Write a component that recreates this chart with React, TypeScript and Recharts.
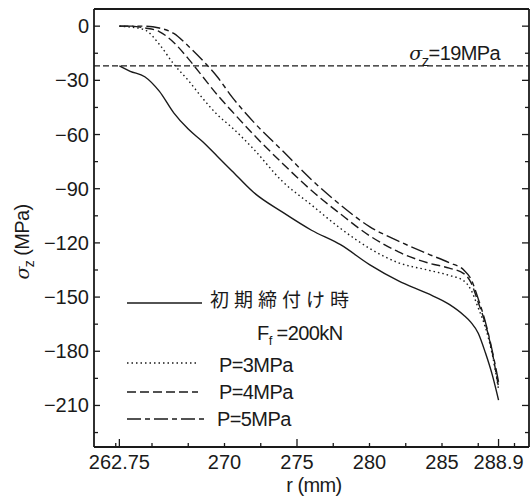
import { LineChart, Line, XAxis, YAxis, ReferenceLine, Legend } from 'recharts';

// radius (mm) and axial stress (MPa)
const radius = [262.75, 263.5, 264.5, 265.5, 266.5, 267.5, 268.5, 269.5, 270.5, 272, 274, 276, 278, 280, 282, 284, 285.5, 286.5, 287, 287.5, 288, 288.5, 288.9];
const initial = [-22, -25, -28, -36, -48, -57, -64, -72, -80, -92, -103, -113, -121, -132, -141, -148, -154, -160, -164, -170, -181, -194, -207];
const p3 = [0, -0.5, -2, -10, -21, -30, -40, -49, -56, -68, -86, -99, -112, -123, -131, -135, -138, -141, -146, -156, -167, -183, -201];
const p4 = [0, 0, -1, -3, -9, -18, -28, -38, -47, -60, -76, -91, -104, -116, -125, -131, -134, -137, -142, -153, -165, -182, -200];
const p5 = [0, 0, 0, -1, -4, -11, -19, -28, -39, -53, -69, -85, -99, -111, -119, -126, -131, -135, -140, -151, -164, -181, -197];

const seriesNames = ['初期締付け時', 'P=3MPa', 'P=4MPa', 'P=5MPa'];
const seriesKeys = ['initial', 'p3', 'p4', 'p5'];
const dashes = [undefined, '1.5 3', '9 4', '14 4 5 4'];

const xLabelTicks = [262.75, 270, 275, 280, 285, 288.9];
const xLongTicks = [262.75, 275, 288.9];
const xMinorTicks = [262.5, 265, 267.5, 270, 272.5, 275, 277.5, 280, 282.5, 285, 287.5, 290];
const yLabelTicks = [0, -30, -60, -90, -120, -150, -180, -210];
const yMinorTicks = [-15, -45, -75, -105, -135, -165, -195, -225];
const limitStress = -22;

const data = radius.map((r, i) => ({ r, initial: initial[i], p3: p3[i], p4: p4[i], p5: p5[i] }));

const ink = '#1a1a1a';
const font = '"Liberation Sans", Arial, sans-serif';
const xDomain = [261, 291];
const yDomain = [-233, 9.5];

const bottomTicks = Array.from(new Set([...xMinorTicks, ...xLabelTicks])).sort((a, b) => a - b);
const leftTicks = [...yLabelTicks, ...yMinorTicks].sort((a, b) => a - b);
const rightTicks = [...leftTicks];

const fmtY = (v: number) => (v < 0 ? '\u2212' + Math.abs(v) : String(v));

const BottomTick = (props: any) => {
  const { x, y, payload } = props;
  const v = payload.value;
  const len = xLongTicks.includes(v) ? 8 : 4;
  return (
    <g>
      <line x1={x} x2={x} y1={y} y2={y - len} stroke={ink} strokeWidth={1.3} />
      {xLabelTicks.includes(v) && (
        <text x={x} y={y + 22} textAnchor="middle" fontSize={20} fontFamily={font} fill={ink}>
          {String(v)}
        </text>
      )}
    </g>
  );
};

const TopTick = (props: any) => {
  const { x, y, payload } = props;
  const len = payload.value === 275 ? 8 : 5;
  return <line x1={x} x2={x} y1={y} y2={y + len} stroke={ink} strokeWidth={1.3} />;
};

const LeftTick = (props: any) => {
  const { x, y, payload } = props;
  const v = payload.value;
  const major = yLabelTicks.includes(v);
  return (
    <g>
      <line x1={x} x2={x + (major ? 6 : 4)} y1={y} y2={y} stroke={ink} strokeWidth={1.3} />
      {major && (
        <text x={x - 5} y={y + 7} textAnchor="end" fontSize={20} fontFamily={font} fill={ink}>
          {fmtY(v)}
        </text>
      )}
    </g>
  );
};

const RightTick = (props: any) => {
  const { x, y, payload } = props;
  const len = yLabelTicks.includes(payload.value) ? 7 : 4;
  return <line x1={x} x2={x - len} y1={y} y2={y} stroke={ink} strokeWidth={1.3} />;
};

const LegendBox = () => {
  // rows relative to the legend box at (120, 280)
  const rows = [
    { lineY: 23, textY: 27, x1: 7, x2: 82, tx: 90 },
    { lineY: 83, textY: 92, x1: 7, x2: 78, tx: 99 },
    { lineY: 112, textY: 119, x1: 7, x2: 78, tx: 99 },
    { lineY: 139, textY: 146, x1: 7, x2: 85, tx: 97 },
  ];
  return (
    <svg width={260} height={160} style={{ overflow: 'visible' }}>
      {seriesNames.map((name, i) => (
        <g key={name}>
          <line
            x1={rows[i].x1}
            x2={rows[i].x2}
            y1={rows[i].lineY}
            y2={rows[i].lineY}
            stroke={ink}
            strokeWidth={1.4}
            strokeDasharray={dashes[i]}
          />
          {i === 0 ? (
            <text x={rows[i].tx} y={rows[i].textY} fontSize={19} letterSpacing={5} fontFamily='"Noto Sans CJK JP", sans-serif' fill={ink}>
              {name}
            </text>
          ) : (
            <text x={rows[i].tx} y={rows[i].textY} fontSize={20} letterSpacing={-0.6} fontFamily={font} fill={ink}>
              {name}
            </text>
          )}
        </g>
      ))}
      <text x={137} y={60} fontSize={20} letterSpacing={-0.6} fontFamily={font} fill={ink}>
        F<tspan dy={5} fontSize={13}>f</tspan>
        <tspan dy={-5}> =200kN</tspan>
      </text>
    </svg>
  );
};

const LimitLabel = (props: any) => {
  const { viewBox } = props;
  const right = viewBox.x + viewBox.width - 29;
  return (
    <text x={right} y={viewBox.y - 6} textAnchor="end" fontSize={20} letterSpacing={-0.6} fontFamily={font} fill={ink}>
      <tspan fontStyle="italic" fontFamily='"DejaVu Serif", serif' fontSize={19}>σ</tspan>
      <tspan dy={6} fontSize={15}>z</tspan>
      <tspan dy={-6}>=19MPa</tspan>
    </text>
  );
};

export default function App() {
  return (
    <div style={{ position: 'absolute', left: 0, top: 0, width: 531, height: 496, background: '#fff' }}>
      <LineChart width={531} height={496} data={data} margin={{ top: 0, right: 0, bottom: 0, left: 0 }}>
        <XAxis
          dataKey="r"
          type="number"
          domain={xDomain}
          allowDataOverflow
          ticks={bottomTicks}
          interval={0}
          height={49}
          tickSize={0}
          tickMargin={0}
          tickLine={false}
          tick={BottomTick}
          axisLine={{ stroke: ink, strokeWidth: 1.8 }}
          label={() => (
            <text x={314} y={492} textAnchor="middle" fontSize={20} letterSpacing={-0.6} fontFamily={font} fill={ink}>
              r (mm)
            </text>
          )}
        />
        <XAxis
          xAxisId="top"
          orientation="top"
          type="number"
          domain={xDomain}
          allowDataOverflow
          ticks={xMinorTicks}
          interval={0}
          height={9}
          tickSize={0}
          tickMargin={0}
          tickLine={false}
          tick={TopTick}
          axisLine={{ stroke: ink, strokeWidth: 1.8 }}
        />
        <YAxis
          type="number"
          domain={yDomain}
          allowDataOverflow
          ticks={leftTicks}
          interval={0}
          width={94}
          tickSize={0}
          tickMargin={0}
          tickLine={false}
          tick={LeftTick}
          axisLine={{ stroke: ink, strokeWidth: 1.8 }}
          label={() => (
            <text x={29} y={242} transform="rotate(-90, 29, 242)" textAnchor="middle" fontSize={20} letterSpacing={-0.6} fontFamily={font} fill={ink}>
              <tspan fontStyle="italic" fontFamily='"DejaVu Serif", serif' fontSize={19}>σ</tspan>
              <tspan dy={5} fontSize={14}>z</tspan>
              <tspan dy={-5}> (MPa)</tspan>
            </text>
          )}
        />
        <YAxis
          yAxisId="right"
          orientation="right"
          type="number"
          domain={yDomain}
          allowDataOverflow
          ticks={rightTicks}
          interval={0}
          width={2}
          tickSize={0}
          tickMargin={0}
          tickLine={false}
          tick={RightTick}
          axisLine={{ stroke: ink, strokeWidth: 1.8 }}
        />
        <ReferenceLine y={limitStress} stroke={ink} strokeWidth={1.3} strokeDasharray="6 3" label={LimitLabel} />
        {seriesKeys.map((key, i) => (
          <Line
            key={key}
            dataKey={key}
            name={seriesNames[i]}
            type="monotone"
            stroke={ink}
            strokeWidth={1.4}
            strokeDasharray={dashes[i]}
            dot={false}
            isAnimationActive={false}
          />
        ))}
        <Legend
          layout="horizontal"
          verticalAlign="middle"
          align="center"
          wrapperStyle={{ left: 120, top: 280, width: 260, height: 160 }}
          content={() => <LegendBox />}
        />
      </LineChart>
    </div>
  );
}
